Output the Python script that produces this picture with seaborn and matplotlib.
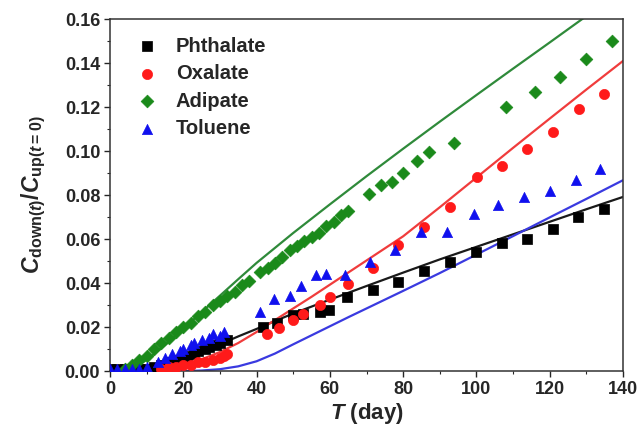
import numpy as np
import pandas as pd
import matplotlib
matplotlib.use("Agg")
import matplotlib.pyplot as plt
from matplotlib.ticker import MultipleLocator, FormatStrFormatter
import seaborn as sns

sns.set_theme(style="ticks")
plt.rcParams["font.family"] = ["Liberation Sans", "DejaVu Sans"]
plt.rcParams["font.weight"] = "bold"
plt.rcParams["mathtext.fontset"] = "custom"
plt.rcParams["mathtext.rm"] = "Liberation Sans:bold"
plt.rcParams["mathtext.bf"] = "Liberation Sans:bold"
plt.rcParams["mathtext.it"] = "Liberation Sans:italic:bold"

# Measured breakthrough data (day, C_down/C_up)
phthalate_t = [0, 2, 4, 6, 8, 10, 12, 14, 16, 18, 20, 21, 23, 24, 26, 27, 29, 30, 32,
               41.8, 45.7, 50, 52.8, 57.3, 59.9, 64.8, 71.9, 78.7, 85.7, 92.8, 99.9,
               106.9, 113.7, 120.8, 127.8, 134.8]
phthalate_c = [0.001, 0.001, 0.001, 0.001, 0.001, 0.001, 0.002, 0.003, 0.004, 0.005, 0.006,
               0.007, 0.008, 0.009, 0.010, 0.011, 0.012, 0.013, 0.014,
               0.0201, 0.0217, 0.0255, 0.0262, 0.0270, 0.0277, 0.0335, 0.0368, 0.0406,
               0.0456, 0.0497, 0.0542, 0.0583, 0.0599, 0.0644, 0.0701, 0.0735]

oxalate_t = [14, 16, 18, 20, 22, 24, 26, 28, 30, 31, 32,
             42.8, 46.2, 50, 52.8, 57.3, 60, 65, 71.9, 78.7, 85.7, 92.8, 100.1,
             107.1, 113.9, 121, 128, 134.8]
oxalate_c = [0.001, 0.002, 0.002, 0.003, 0.003, 0.004, 0.004, 0.005, 0.006, 0.007, 0.008,
             0.0171, 0.0194, 0.0232, 0.0262, 0.0300, 0.0338, 0.0398, 0.0467, 0.0573,
             0.0656, 0.0744, 0.0883, 0.0933, 0.1008, 0.1085, 0.1190, 0.1258]

adipate_t = [4, 6, 8, 10, 12, 14, 16, 18, 20, 22, 24, 26, 28, 30, 32, 34, 36, 38,
             41, 43, 45, 47, 49, 51, 53, 55, 57, 59, 61, 63, 65,
             70.8, 73.9, 76.9, 79.9, 83.9, 87.1, 94, 108, 116, 122.8, 129.9, 136.9]
adipate_c = [0.001, 0.003, 0.005, 0.007, 0.010, 0.013, 0.015, 0.018, 0.020, 0.022, 0.025,
             0.027, 0.030, 0.032, 0.034, 0.036, 0.039, 0.041,
             0.045, 0.047, 0.049, 0.052, 0.055, 0.057, 0.059, 0.061, 0.063, 0.066,
             0.068, 0.071, 0.073,
             0.0805, 0.0845, 0.0861, 0.0899, 0.0956, 0.0997, 0.1038, 0.1199, 0.1267,
             0.1335, 0.1417, 0.1501]

toluene_t = [0, 2, 4, 6, 8, 10, 13, 15, 17, 19, 20, 22, 23, 25, 27, 28, 30, 31,
             40.9, 44.8, 49.1, 52, 56.2, 59, 64.1, 71, 77.8, 84.9, 92, 99.2, 106,
             113, 120.1, 127.2, 133.7]
toluene_c = [0.001, 0.001, 0.001, 0.001, 0.001, 0.002, 0.004, 0.006, 0.008, 0.009, 0.010,
             0.012, 0.013, 0.014, 0.015, 0.017, 0.016, 0.018,
             0.027, 0.033, 0.034, 0.0386, 0.0436, 0.0441, 0.0436, 0.0497, 0.055,
             0.0633, 0.0633, 0.0714, 0.0755, 0.079, 0.082, 0.0868, 0.0917]

# Model curves
phthalate_fit_t = [0, 5, 10, 15, 20, 25, 30, 35, 40, 45, 50, 60, 70, 80, 90, 100, 110,
                   120, 130, 140]
phthalate_fit_c = [0, 0, 0.001, 0.003, 0.0057, 0.0088, 0.0122, 0.0158, 0.0192, 0.0228,
                   0.0262, 0.0325, 0.0387, 0.0448, 0.0508, 0.0565, 0.0622, 0.0679,
                   0.0736, 0.0792]

oxalate_fit_t = [0, 10, 15, 20, 25, 30, 35, 40, 45, 50, 55, 60, 65, 70, 75, 80, 90, 100,
                 110, 120, 130, 140]
oxalate_fit_c = [0, 0.0003, 0.0014, 0.003, 0.0054, 0.0087, 0.0128, 0.0178, 0.0232, 0.0285,
                 0.0338, 0.0393, 0.0448, 0.0503, 0.0558, 0.0613, 0.0745, 0.0880, 0.1015,
                 0.1148, 0.1280, 0.1410]

adipate_fit_t = [0, 5, 8, 10, 12, 15, 20, 25, 30, 35, 40, 50, 60, 70, 80, 90, 100, 110,
                 120, 128, 130]
adipate_fit_c = [0, 0.0005, 0.003, 0.0052, 0.0078, 0.0118, 0.0192, 0.0268, 0.0343, 0.0418,
                 0.0492, 0.0628, 0.0758, 0.0886, 0.1011, 0.1134, 0.1255, 0.1375, 0.1494,
                 0.1590, 0.1614]

toluene_fit_t = [0, 20, 25, 30, 35, 40, 45, 50, 55, 60, 65, 70, 75, 80, 90, 100, 110, 120,
                 130, 140]
toluene_fit_c = [0, 0, 0.0003, 0.0009, 0.0022, 0.0045, 0.0080, 0.0122, 0.0163, 0.0204,
                 0.0245, 0.0285, 0.0325, 0.0365, 0.0446, 0.0530, 0.0614, 0.0699,
                 0.0783, 0.0868]

names = ["Phthalate", "Oxalate", "Adipate", "Toluene"]
point_colors = {"Phthalate": "#000000", "Oxalate": "#ff1a1a",
                "Adipate": "#1a8a1a", "Toluene": "#1010ee"}
line_colors = {"Phthalate": "#1a1a1a", "Oxalate": "#f03c3c",
               "Adipate": "#2f8a3a", "Toluene": "#3a3ae0"}
markers = {"Phthalate": "s", "Oxalate": "o", "Adipate": "D", "Toluene": "^"}
marker_sizes = {"Phthalate": 44, "Oxalate": 54, "Adipate": 42, "Toluene": 54}

obs = pd.concat([
    pd.DataFrame({"t": phthalate_t, "c": phthalate_c, "compound": "Phthalate"}),
    pd.DataFrame({"t": oxalate_t, "c": oxalate_c, "compound": "Oxalate"}),
    pd.DataFrame({"t": adipate_t, "c": adipate_c, "compound": "Adipate"}),
    pd.DataFrame({"t": toluene_t, "c": toluene_c, "compound": "Toluene"}),
], ignore_index=True)

fit = pd.concat([
    pd.DataFrame({"t": phthalate_fit_t, "c": phthalate_fit_c, "compound": "Phthalate"}),
    pd.DataFrame({"t": oxalate_fit_t, "c": oxalate_fit_c, "compound": "Oxalate"}),
    pd.DataFrame({"t": adipate_fit_t, "c": adipate_fit_c, "compound": "Adipate"}),
    pd.DataFrame({"t": toluene_fit_t, "c": toluene_fit_c, "compound": "Toluene"}),
], ignore_index=True)

fig = plt.figure(figsize=(6.43, 4.44), dpi=100)
ax = fig.add_axes([0.171, 0.164, 0.798, 0.793])

sns.lineplot(data=fit, x="t", y="c", hue="compound", hue_order=names,
             palette=line_colors, linewidth=1.6, legend=False, ax=ax,
             estimator=None, sort=True)

for name in names:
    sub = obs[obs["compound"] == name]
    sns.scatterplot(data=sub, x="t", y="c", marker=markers[name],
                    color=point_colors[name], s=marker_sizes[name],
                    edgecolor=point_colors[name], linewidth=0.5,
                    label=name, ax=ax, zorder=3)

ax.set_xlim(0, 140)
ax.set_ylim(0, 0.16)
ax.xaxis.set_major_locator(MultipleLocator(20))
ax.xaxis.set_minor_locator(MultipleLocator(10))
ax.yaxis.set_major_locator(MultipleLocator(0.02))
ax.yaxis.set_minor_locator(MultipleLocator(0.01))
ax.yaxis.set_major_formatter(FormatStrFormatter("%.2f"))
ax.tick_params(which="major", direction="out", length=4, width=1,
               labelsize=13, top=False, right=False, pad=3)
ax.tick_params(which="minor", direction="out", length=2.5, width=0.8,
               top=False, right=False)
for lab in ax.get_xticklabels() + ax.get_yticklabels():
    lab.set_fontweight("bold")
for sp in ax.spines.values():
    sp.set_linewidth(1.1)
    sp.set_color("#333333")

ax.set_xlabel(r"$\mathit{T}$ (day)", fontsize=16, fontweight="bold", labelpad=2)
ax.set_ylabel(r"$\mathit{C}_{\mathrm{down}(\mathit{t})}/\mathit{C}_{\mathrm{up}(\mathit{t}=0)}$",
              fontsize=16.5, labelpad=12)

leg = ax.legend(loc="upper left", frameon=False, fontsize=14.5,
                bbox_to_anchor=(0.005, 0.99), handletextpad=0.45,
                labelspacing=0.42, borderaxespad=0.3)
for txt in leg.get_texts():
    txt.set_fontweight("bold")

fig.savefig("out.png", dpi=100)
